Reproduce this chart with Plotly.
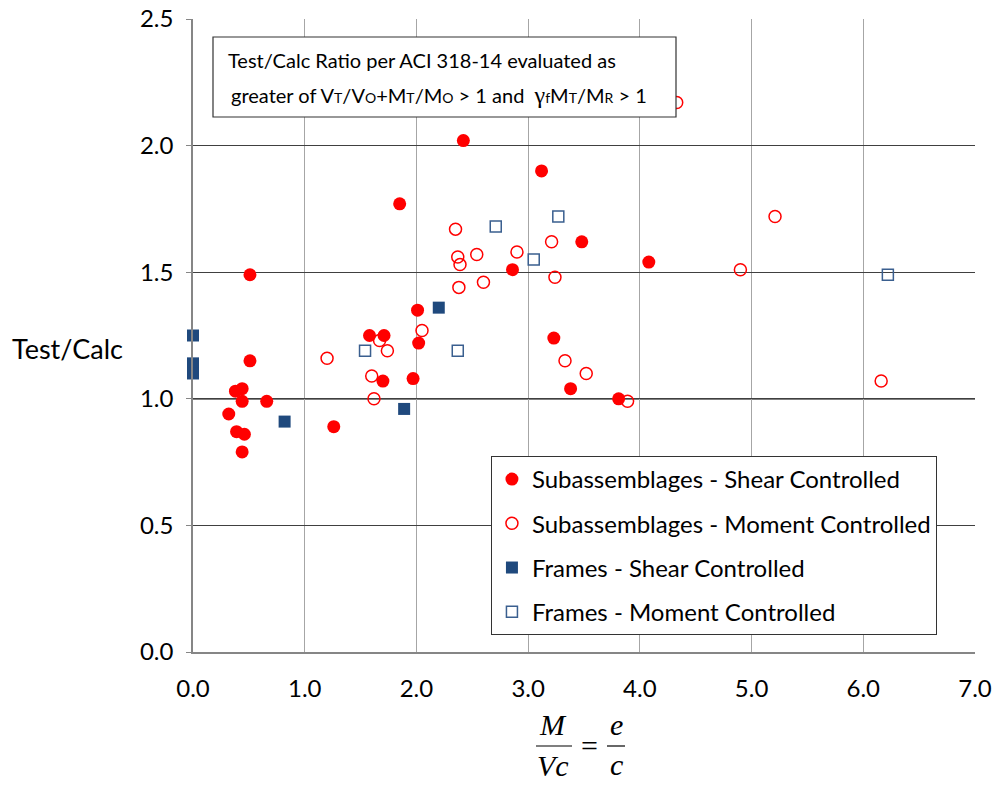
import plotly.graph_objects as go

# Subassemblages - Shear Controlled
sub_shear_x = [0.51, 0.51, 0.44, 0.38, 0.44, 0.66, 0.32, 0.39, 0.46, 0.44, 1.26, 1.58, 1.71, 2.02, 1.70,
               1.97, 2.42, 3.12, 1.85, 3.48, 4.08, 2.86, 2.01, 3.23, 3.38, 3.81]
sub_shear_y = [1.49, 1.15, 1.04, 1.03, 0.99, 0.99, 0.94, 0.87, 0.86, 0.79, 0.89, 1.25, 1.25, 1.22, 1.07,
               1.08, 2.02, 1.90, 1.77, 1.62, 1.54, 1.51, 1.35, 1.24, 1.04, 1.00]

# Subassemblages - Moment Controlled
sub_mom_x = [2.05, 1.67, 1.74, 1.20, 1.60, 1.62, 2.35, 2.37, 2.39, 2.54, 2.90, 3.21, 2.38, 2.60, 3.24,
             3.33, 3.52, 3.89, 4.90, 5.21, 6.16, 4.33]
sub_mom_y = [1.27, 1.23, 1.19, 1.16, 1.09, 1.00, 1.67, 1.56, 1.53, 1.57, 1.58, 1.62, 1.44, 1.46, 1.48,
             1.15, 1.10, 0.99, 1.51, 1.72, 1.07, 2.17]

# Frames - Shear Controlled
fr_shear_x = [0.0, 0.0, 0.0, 0.82, 1.89, 2.20]
fr_shear_y = [1.25, 1.14, 1.10, 0.91, 0.96, 1.36]

# Frames - Moment Controlled
fr_mom_x = [1.54, 2.37, 2.71, 3.27, 3.05, 6.22]
fr_mom_y = [1.19, 1.19, 1.68, 1.72, 1.55, 1.49]

x_ticks = [0, 1, 2, 3, 4, 5, 6, 7]
y_ticks = [0, 0.5, 1.0, 1.5, 2.0, 2.5]

RED = "#FF0000"
BLUE = "#1F497D"
FONT = "Lato"

fig = go.Figure()
fig.add_trace(go.Scatter(x=sub_shear_x, y=sub_shear_y, mode="markers",
                         name="Subassemblages - Shear Controlled", legendgroup="a",
                         marker=dict(symbol="circle", size=13, color=RED), cliponaxis=False))
fig.add_trace(go.Scatter(x=sub_mom_x, y=sub_mom_y, mode="markers",
                         name="Subassemblages - Moment Controlled", legendgroup="b",
                         marker=dict(symbol="circle-open", size=12, color=RED, line=dict(width=1.5)),
                         cliponaxis=False))
fig.add_trace(go.Scatter(x=fr_shear_x, y=fr_shear_y, mode="markers",
                         name="Frames - Shear Controlled", legendgroup="c",
                         marker=dict(symbol="square", size=12, color=BLUE), cliponaxis=False))
fig.add_trace(go.Scatter(x=fr_mom_x, y=fr_mom_y, mode="markers",
                         name="Frames - Moment Controlled", legendgroup="d",
                         marker=dict(symbol="square-open", size=11, color="#3A5F8F", line=dict(width=1.5)),
                         cliponaxis=False))

# emphasised 1.0 line
fig.add_shape(type="line", xref="paper", x0=0, x1=1, yref="y", y0=1.0, y1=1.0,
              line=dict(color="black", width=1.5), layer="below")

fig.update_layout(
    width=994, height=785,
    margin=dict(l=193, r=19, t=19, b=133),
    paper_bgcolor="white", plot_bgcolor="white",
    font=dict(family=FONT, size=20, color="black"),
    showlegend=True,
    legend=dict(x=0.381, y=0.3096, xanchor="left", yanchor="top",
                bgcolor="white", bordercolor="#333333", borderwidth=1,
                font=dict(family=FONT, size=24, color="black"),
                tracegroupgap=10, itemwidth=30),
    xaxis=dict(range=[0, 7], tickvals=x_ticks, ticktext=[f"{v:.1f}" for v in x_ticks],
               showgrid=True, gridcolor="#A6A6A6", gridwidth=1,
               showline=True, linecolor="#868686", linewidth=1.5,
               ticks="", ticklabelstandoff=14, zeroline=False, automargin=False,
               tickfont=dict(family=FONT, size=24)),
    yaxis=dict(range=[0, 2.5], tickvals=y_ticks, ticktext=[f"{v:.1f}" for v in y_ticks],
               showgrid=True, gridcolor="#404040", gridwidth=1,
               showline=True, linecolor="#868686", linewidth=1.5,
               ticks="outside", ticklen=5, tickcolor="#868686",
               ticklabelstandoff=8, zeroline=False, automargin=False,
               tickfont=dict(family=FONT, size=24)),
)

def px_x(p):
    return (p - 193) / 782

def px_y(p):
    return (652 - p) / 633

# note box (drawn above the data so it hides the point behind it)
fig.add_shape(type="rect", xref="paper", yref="paper",
              x0=px_x(213), x1=px_x(676), y0=px_y(117), y1=px_y(37),
              fillcolor="white", line=dict(color="#333333", width=1.2), layer="above")

sm = "<span style='font-size:14px'>"
line1 = "Test/Calc Ratio per ACI 318-14 evaluated as"
line2 = (f"greater of V{sm}T</span>/V{sm}O</span>+M{sm}T</span>/M{sm}O</span> &gt; 1 and  "
         f"<span style='font-family:Liberation Serif;font-size:24px'>γ</span>{sm}f</span>M{sm}T</span>/M{sm}R</span> &gt; 1")
fig.add_annotation(text=line1, xref="paper", yref="paper", x=px_x(226), y=px_y(60),
                   xanchor="left", yanchor="middle", showarrow=False,
                   font=dict(family=FONT, size=20, color="black"))
fig.add_annotation(text=line2, xref="paper", yref="paper", x=px_x(229), y=px_y(95),
                   xanchor="left", yanchor="middle", showarrow=False,
                   font=dict(family=FONT, size=20, color="black"))

# y-axis title
fig.add_annotation(text="Test/Calc", xref="paper", yref="paper", x=px_x(10), y=px_y(348),
                   xanchor="left", yanchor="middle", showarrow=False,
                   font=dict(family=FONT, size=27, color="black"))

# x-axis title: M/Vc = e/c
SERIF = "Liberation Serif"
for txt, cx, cy in [("<i>M</i>", 553, 724), ("<i>Vc</i>", 553, 765),
                    ("<i>e</i>", 616, 725), ("<i>c</i>", 616, 764)]:
    fig.add_annotation(text=txt, xref="paper", yref="paper", x=px_x(cx), y=px_y(cy),
                       xanchor="center", yanchor="middle", showarrow=False,
                       font=dict(family=SERIF, size=30, color="black"))
fig.add_annotation(text="=", xref="paper", yref="paper", x=px_x(589), y=px_y(746),
                   xanchor="center", yanchor="middle", showarrow=False,
                   font=dict(family=SERIF, size=30, color="black"))
fig.add_shape(type="line", xref="paper", yref="paper", x0=px_x(536), x1=px_x(572),
              y0=px_y(746), y1=px_y(746), line=dict(color="black", width=1.2))
fig.add_shape(type="line", xref="paper", yref="paper", x0=px_x(607), x1=px_x(625),
              y0=px_y(746), y1=px_y(746), line=dict(color="black", width=1.2))

fig.write_html("out.html")
